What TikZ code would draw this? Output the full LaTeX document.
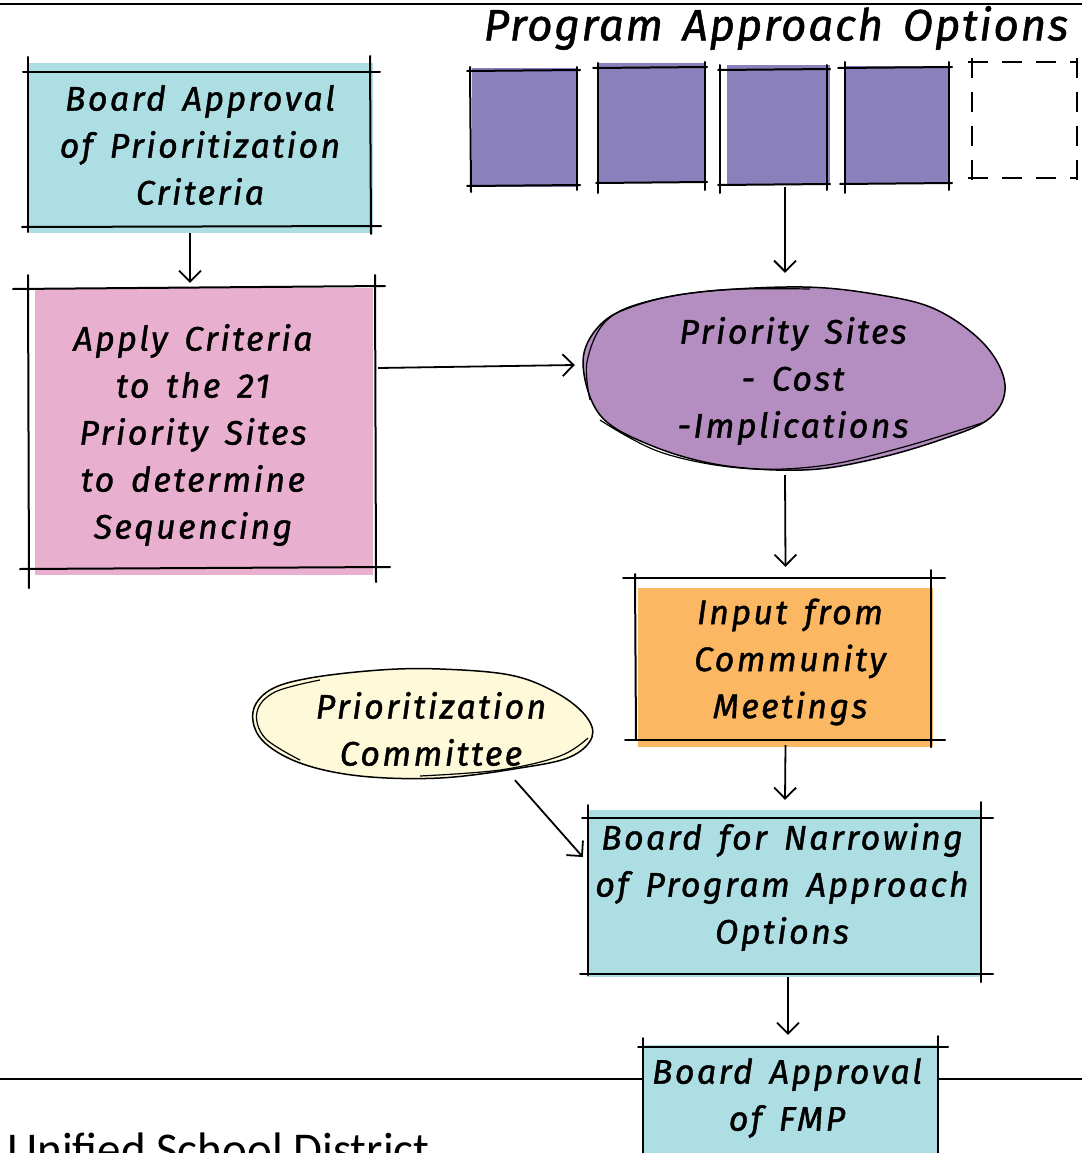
\documentclass[tikz,border=0pt]{standalone}
\usepackage{fontspec}
\usetikzlibrary{arrows.meta,shapes.geometric,calc}
\newfontfamily\hand[LetterSpace=7,WordSpace=1.5,FakeBold=1.2]{Fira Sans}
\newfontfamily\handtitle[LetterSpace=4,WordSpace=1.5,FakeBold=1.2]{Fira Sans}
\newfontfamily\calib{Carlito}
\definecolor{lblue}{HTML}{ADDEE3}
\definecolor{lpink}{HTML}{E8AFCE}
\definecolor{lorange}{HTML}{FBB762}
\definecolor{sqpurple}{HTML}{8A80BC}
\definecolor{blobpurple}{HTML}{B48DC1}
\definecolor{lyellow}{HTML}{FEF9D8}
\tikzset{
  edge/.style={line width=2pt, line cap=round},
  arr/.style={line width=1.8pt, -{Straight Barb[length=11pt,width=22pt,line width=1.8pt]}},
  txt/.style={font=\hand\itshape\fontsize{34}{47}\selectfont, align=center, text=black, inner sep=0pt},
  fillbox/.style={fill=#1, draw=none, inner sep=0pt},
  dash box/.style={line width=2pt, dash pattern=on 20pt off 14pt}
}
\begin{document}
\begin{tikzpicture}[x=1pt,y=-1pt]
\useasboundingbox (0,0) rectangle (1082,1153);
% page rules
\draw[line width=2.2pt] (0,4) -- (1082,4);
\draw[line width=2pt] (0,1079) -- (1082,1079);

% title
\node[txt, font=\handtitle\itshape\fontsize{44}{50}\selectfont] (title) at (776,28) {Program Approach Options};

% Box 1
\node[fillbox=lblue, minimum width=345pt, minimum height=170pt] (b1) at (200.5,148) {};
\draw[edge] (23,72) -- (380,72);
\draw[edge] (22,227) -- (381,226);
\draw[edge] (28,57) -- (28,232);
\draw[edge] (370,56) -- (371,234);
\node[txt] (b1t) at (200,145) {Board Approval\\of Prioritization\\Criteria};

% Box 2
\node[fillbox=lpink, minimum width=338pt, minimum height=287pt] (b2) at (204,431.5) {};
\draw[edge] (13,289) -- (385,286);
\draw[edge] (28,275) -- (29,588);
\draw[edge] (375,275) -- (376,582);
\draw[edge] (20,569) -- (390,567);
\node[txt] (b2t) at (193,435) {Apply Criteria\\to the 21\\Priority Sites\\to determine\\Sequencing};

% squares
\node[fillbox=sqpurple, minimum width=105pt, minimum height=119pt] (sq1) at (524.5,127.5) {};
\draw[edge] (467,71) -- (580,70);
\draw[edge] (467,186) -- (580,185);
\draw[edge] (470,67) -- (471,192);
\draw[edge] (577,67) -- (577,190);
\node[fillbox=sqpurple, minimum width=107pt, minimum height=120pt] (sq2) at (651.5,123) {};
\draw[edge] (593,68) -- (707,67);
\draw[edge] (596,183) -- (707,182);
\draw[edge] (598,63) -- (598,193);
\draw[edge] (705,62) -- (705,190);
\node[fillbox=sqpurple, minimum width=103pt, minimum height=120pt] (sq3) at (778.5,125) {};
\draw[edge] (718,70) -- (830,69);
\draw[edge] (718,185) -- (830,184);
\draw[edge] (720,65) -- (720,193);
\draw[edge] (827,65) -- (827,190);
\node[fillbox=sqpurple, minimum width=105pt, minimum height=117pt] (sq4) at (897.5,124.5) {};
\draw[edge] (838,68) -- (952,67);
\draw[edge] (840,184) -- (952,183);
\draw[edge] (845,62) -- (845,193);
\draw[edge] (949,62) -- (949,190);
% dashed empty option
\draw[dash box] (968,62) -- (1077,62);
\draw[dash box] (968,178) -- (1077,178);
\draw[dash box] (972,58) -- (972,186);
\draw[dash box] (1077,58) -- (1077,182);

% Priority sites blob
\fill[blobpurple] plot[smooth cycle, tension=0.6] coordinates {(583,362) (600,325) (637,305) (700,292) (803,287) (880,295) (937,310) (985,345) (1005,385) (990,418) (940,440) (870,460) (803,470) (720,465) (650,445) (600,415)};
\draw[line width=1.5pt] plot[smooth cycle, tension=0.6] coordinates {(583,362) (600,325) (637,305) (700,292) (803,287) (880,295) (937,310) (985,345) (1005,385) (990,418) (940,440) (870,460) (803,470) (720,465) (650,445) (600,415)};
\draw[line width=1.2pt] plot[smooth, tension=0.6] coordinates {(590,400) (587,362) (605,322) (645,302) (720,290) (810,289)};
\draw[line width=1.2pt] plot[smooth, tension=0.6] coordinates {(600,420) (660,452) (740,468) (820,466) (900,448) (982,423)};
\node[ellipse, minimum width=422pt, minimum height=186pt, inner sep=0pt] (ps) at (793,380) {};
\node[txt] (pst) at (793,381) {Priority Sites\\- Cost\\-Implications};

% Box 3 orange
\node[fillbox=lorange, minimum width=295pt, minimum height=159pt] (b3) at (785.5,667.5) {};
\draw[edge] (623,578) -- (945,578);
\draw[edge] (625,740) -- (945,740);
\draw[edge] (635,574) -- (636,740);
\draw[edge] (931,570) -- (931,747);
\node[txt] (b3t) at (790,662) {Input from\\Community\\Meetings};

% Prioritization committee blob
\fill[lyellow] plot[smooth cycle, tension=0.6] coordinates {(253,712) (270,690) (310,678) (380,670) (440,669) (510,675) (555,692) (585,715) (592,737) (570,757) (520,768) (440,778) (360,776) (300,763) (262,740)};
\draw[line width=1.5pt] plot[smooth cycle, tension=0.6] coordinates {(253,712) (270,690) (310,678) (380,670) (440,669) (510,675) (555,692) (585,715) (592,737) (570,757) (520,768) (440,778) (360,776) (300,763) (262,740)};
\draw[line width=1.2pt] plot[smooth, tension=0.6] coordinates {(300,760) (265,738) (257,712) (275,692) (320,680)};
\draw[line width=1.2pt] plot[smooth, tension=0.6] coordinates {(420,776) (500,770) (560,756) (588,738)};
\node[ellipse, minimum width=340pt, minimum height=108pt, inner sep=0pt] (pc) at (423,725) {};
\node[txt] (pct) at (431,729) {Prioritization\\Committee};

% Box 4
\node[fillbox=lblue, minimum width=393pt, minimum height=167pt] (b4) at (783.5,893.5) {};
\draw[edge] (582,818) -- (993,818);
\draw[edge] (580,974) -- (993,974);
\draw[edge] (588,805) -- (588,975);
\draw[edge] (981,802) -- (981,982);
\node[txt] (b4t) at (782,887) {Board for Narrowing\\of Program Approach\\Options};

% Box 5
\node[fillbox=lblue, minimum width=294pt, minimum height=115pt] (b5) at (790,1102.5) {};
\draw[edge] (638,1047) -- (948,1047);
\draw[edge] (643,1038) -- (643,1170);
\draw[edge] (938,1036) -- (938,1170);
\node[txt] (b5t) at (787,1098) {Board Approval\\of FMP};

% footer text
\node[anchor=base west, inner sep=0pt, font=\calib\fontsize{47}{47}\selectfont] (foot) at (7,1165) {Unified School District};

% connectors
\draw[arr] ($(b1.south)+(-10.5,0)$) -- ($(b2.north)+(-14,-5)$);
\draw[arr] ($(b2.east)+(5,-63.5)$) -- ($(ps.west)+(-7,-15)$);
\draw[arr] ($(sq3.south)+(6.5,2)$) -- ($(ps.north)+(-8,-14)$);
\draw[arr] ($(ps.south)+(-8,2)$) -- ($(b3.north)+(0,-21)$);
\draw[arr] ($(b3.south)+(0,-2)$) -- ($(b4.north)+(1.5,-10)$);
\draw[arr] ($(pc.south)+(92,1)$) -- ($(b4.west)+(-4,-36.5)$);
\draw[arr] ($(b4.south)+(4.5,0)$) -- ($(b5.north)+(-2,-10)$);
\end{tikzpicture}
\end{document}
